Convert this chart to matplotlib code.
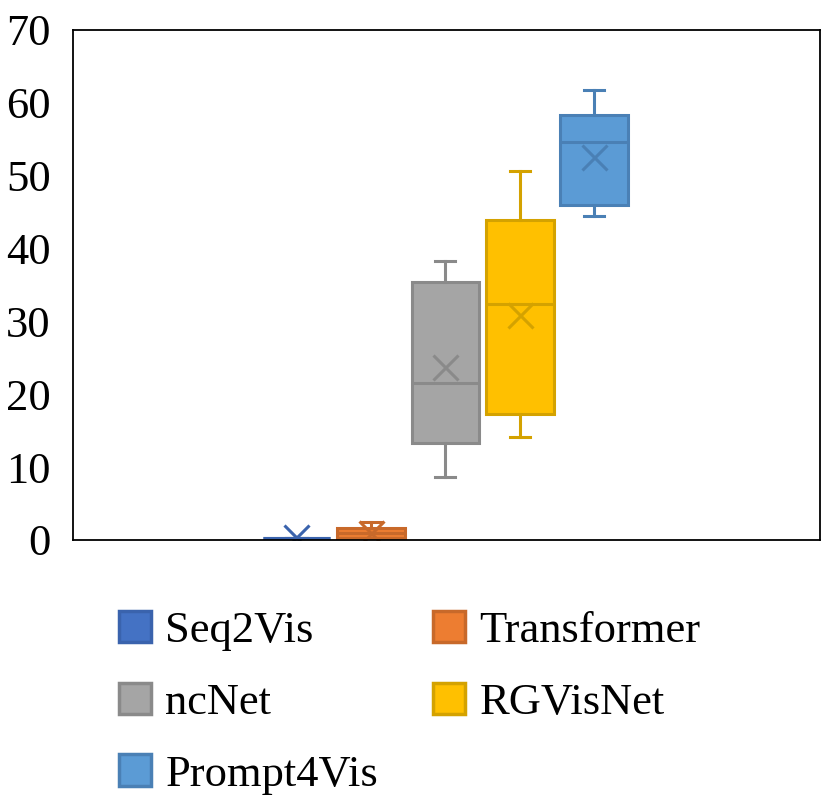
import matplotlib.pyplot as plt
from matplotlib.patches import Patch

plt.rcParams['font.family'] = ['Liberation Serif', 'DejaVu Serif']

models = ['Seq2Vis', 'Transformer', 'ncNet', 'RGVisNet', 'Prompt4Vis']
whislo = [0.3, 0.3, 8.7, 14.2, 44.4]
q1 = [0.3, 0.3, 13.3, 17.3, 46.0]
med = [0.3, 1.0, 21.6, 32.4, 54.6]
q3 = [0.3, 1.7, 35.4, 43.9, 58.3]
whishi = [0.3, 2.5, 38.3, 50.6, 61.8]
means = [0.4, 1.0, 23.8, 30.9, 52.6]

face = ['#4472C4', '#ED7D31', '#A5A5A5', '#FFC000', '#5B9BD5']
edge = ['#3A63AD', '#C8692A', '#8A8A8A', '#D4A200', '#4A80B5']

stats = []
for i, m in enumerate(models):
    stats.append(dict(label=m, whislo=whislo[i], q1=q1[i], med=med[i], q3=q3[i],
                      whishi=whishi[i], mean=means[i], fliers=[]))

fig = plt.figure(figsize=(8.3, 8.02), dpi=100)
ax = fig.add_axes([0.088, 0.3267, 0.9, 0.636])

for i, s in enumerate(stats):
    c = edge[i]
    ax.bxp([s], positions=[i + 1], widths=0.91, capwidths=0.27, patch_artist=True,
           showmeans=True, manage_ticks=False,
           boxprops=dict(facecolor=face[i], edgecolor=c, linewidth=2.2),
           medianprops=dict(color=c, linewidth=2.2),
           whiskerprops=dict(color=c, linewidth=2.2),
           capprops=dict(color=c, linewidth=2.2),
           meanprops=dict(marker='x', markeredgecolor=c, markersize=18, markeredgewidth=2.2))

ax.set_xlim(-2.0, 8.03)
ax.set_ylim(0, 70)
ax.set_yticks(range(0, 71, 10))
ax.set_xticks([])
ax.tick_params(axis='y', length=0, labelsize=32, pad=16)
for sp in ax.spines.values():
    sp.set_linewidth(1.3)
    sp.set_color('black')

# legend fills column by column, so order for row-wise reading
order = [0, 2, 4, 1, 3]
handles = [Patch(facecolor=face[i], edgecolor=edge[i], linewidth=2.5) for i in order]
labels = [models[i] for i in order]
fig.legend(handles, labels, loc='upper left', bbox_to_anchor=(0.1434, 0.238),
           ncol=2, frameon=False, fontsize=32, handlelength=0.72, handleheight=0.7,
           handletextpad=0.32, labelspacing=0.71, columnspacing=1.24, borderpad=0,
           borderaxespad=0)

fig.savefig('out.png', dpi=100)
